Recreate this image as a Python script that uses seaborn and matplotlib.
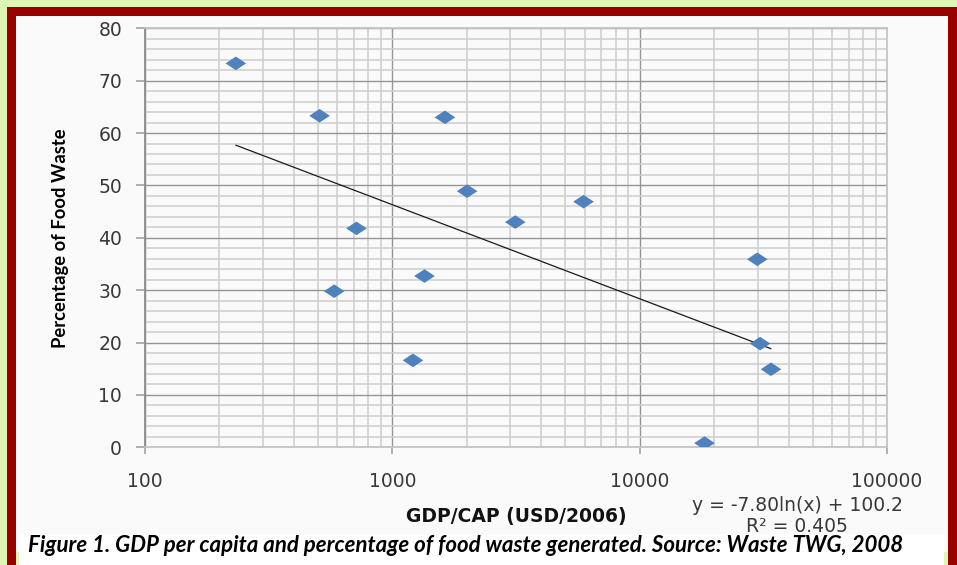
import numpy as np
import pandas as pd
import matplotlib
matplotlib.use('Agg')
import matplotlib.pyplot as plt
import seaborn as sns
from matplotlib.patches import Rectangle
from matplotlib.path import Path
from matplotlib.ticker import LogLocator, MultipleLocator, FixedLocator

# data
gdp_per_cap = [233, 508, 582, 716, 1212, 1349, 1632, 2006, 3142, 5930,
               18290, 29900, 30670, 33960]
food_waste_pct = [73.3, 63.3, 29.8, 41.8, 16.6, 32.7, 63.0, 48.9, 43.0, 46.9,
                  0.8, 35.9, 19.8, 14.9]
# logarithmic trend line printed on the chart
trend_slope = -7.80
trend_intercept = 100.2
x_tick_labels = ['100', '1000', '10000', '100000']
equation_text = 'y = -7.80ln(x) + 100.2'
r2_text = 'R\u00b2 = 0.405'
caption = 'Figure 1. GDP per capita and percentage of food waste generated. Source: Waste TWG, 2008'

df = pd.DataFrame({'gdp': gdp_per_cap, 'waste': food_waste_pct})
xt = np.array([min(gdp_per_cap), max(gdp_per_cap)])
trend = pd.DataFrame({'gdp': xt, 'waste': trend_slope * np.log(xt) + trend_intercept})

sns.set_theme(style='white')
plt.rcParams['font.family'] = ['DejaVu Sans']

fig = plt.figure(figsize=(9.57, 5.65), dpi=100, facecolor='#dff5b6')

# frame: red border, light panel, green strip and caption box
def box(x0, y0, x1, y1, color):
    # pixel coords measured from the top-left corner
    fig.patches.append(Rectangle((x0 / 957, 1 - y1 / 565), (x1 - x0) / 957, (y1 - y0) / 565,
                                 transform=fig.transFigure, facecolor=color,
                                 edgecolor='none', zorder=-5))

box(7, 7, 957, 565, '#990000')
box(15.7, 15.5, 948, 552, '#fafafa')
box(15.7, 552, 948, 565, '#dff5b6')
box(18.7, 534, 944, 565, 'white')

ax = fig.add_axes([145 / 957, 117.7 / 565, 742 / 957, 419 / 565])
ax.set_facecolor('#fafafa')

diamond = Path([(-1, 0), (0, 0.66), (1, 0), (0, -0.66), (-1, 0)],
               [Path.MOVETO, Path.LINETO, Path.LINETO, Path.LINETO, Path.CLOSEPOLY])

sns.lineplot(data=trend, x='gdp', y='waste', color='#1a1a1a', linewidth=0.9, ax=ax, zorder=3)
sns.scatterplot(data=df, x='gdp', y='waste', marker=diamond, s=220, color='#4f81bd',
                edgecolor='none', ax=ax, zorder=4)

ax.set_xscale('log')
ax.set_xlim(100, 100000)
ax.set_ylim(0, 80)
ax.xaxis.set_major_locator(FixedLocator([100, 1000, 10000, 100000]))
ax.set_xticklabels(x_tick_labels)
ax.xaxis.set_minor_locator(LogLocator(base=10, subs=np.arange(2, 10)))
ax.yaxis.set_major_locator(MultipleLocator(10))
ax.yaxis.set_minor_locator(MultipleLocator(2))

ax.grid(True, which='major', color='#959595', linewidth=1.0)
ax.grid(True, which='minor', color='#cdcdcd', linewidth=1.1)
ax.set_axisbelow(True)

for side in ['top', 'right', 'bottom']:
    ax.spines[side].set_color('#c4c4c4')
    ax.spines[side].set_linewidth(1.3)
ax.spines['left'].set_color('#8c8c8c')
ax.spines['left'].set_linewidth(1.3)

ax.tick_params(axis='y', which='major', left=True, length=6.5, width=1.1, color='#9a9a9a',
               pad=10, labelsize=13.5, labelcolor='#383838')
ax.tick_params(axis='x', which='major', bottom=True, length=5, width=1.1, color='#9a9a9a',
               pad=12.5, labelsize=13.5, labelcolor='#383838')
ax.tick_params(which='minor', length=0)

ax.set_ylabel('Percentage of Food Waste', family=['Lato', 'DejaVu Sans'], fontweight='bold',
              fontsize=13.2, color='black')
ax.yaxis.label.set_va('center')
ax.yaxis.set_label_coords(-0.1135, 0.5)
ax.set_xlabel('GDP/CAP (USD/2006)', fontweight='bold', fontsize=13.5, color='#111111')
ax.xaxis.label.set_va('center')
ax.xaxis.set_label_coords(0.501, -0.166)

ax.text(0.879, -0.138, equation_text, transform=ax.transAxes, ha='center', va='center',
        fontsize=13.5, color='#383838')
ax.text(0.879, -0.190, r2_text, transform=ax.transAxes, ha='center', va='center',
        fontsize=13.5, color='#383838')

fig.text(28 / 957, 13 / 565, caption, family=['Lato', 'DejaVu Sans'], fontweight='bold',
         fontstyle='italic', fontsize=16, color='black', ha='left', va='baseline')

fig.savefig('out.png', dpi=100, facecolor=fig.get_facecolor())
